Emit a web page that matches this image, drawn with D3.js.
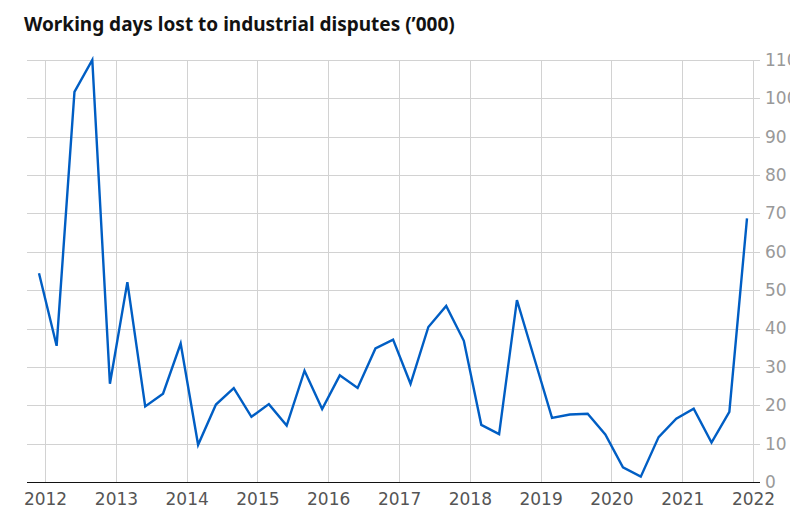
<!DOCTYPE html>
<html>
<head>
<meta charset="utf-8">
<script src="https://cdn.jsdelivr.net/npm/d3@7"></script>
<style>
  body { margin: 0; background: #fff; }
  svg text { font-family: "DejaVu Sans", sans-serif; }
</style>
</head>
<body>
<div id="chart"></div>
<script>
// quarterly periods (month the quarter ends)
const periods = [
  "2011-12",
  "2012-03", "2012-06", "2012-09", "2012-12",
  "2013-03", "2013-06", "2013-09", "2013-12",
  "2014-03", "2014-06", "2014-09", "2014-12",
  "2015-03", "2015-06", "2015-09", "2015-12",
  "2016-03", "2016-06", "2016-09", "2016-12",
  "2017-03", "2017-06", "2017-09", "2017-12",
  "2018-03", "2018-06", "2018-09", "2018-12",
  "2019-03", "2019-06", "2019-09", "2019-12",
  "2020-03", "2020-06", "2020-09", "2020-12",
  "2021-03", "2021-06", "2021-09", "2021-12"
];
// working days lost, thousands
const daysLost = [
  54.4,
  35.5, 101.7, 110, 25.6,
  52.1, 19.7, 23.0, 36.1,
  9.7, 20.2, 24.5, 17.0,
  20.3, 14.7, 29.0, 19.0,
  27.8, 24.5, 34.8, 37.1,
  25.6, 40.4, 45.9, 36.8,
  14.9, 12.5, 47.4, 32.0,
  16.7, 17.6, 17.8, 12.4,
  3.8, 1.4, 11.7, 16.5,
  19.1, 10.3, 18.3, 68.7
];
const yearTicks = [2012, 2013, 2014, 2015, 2016, 2017, 2018, 2019, 2020, 2021, 2022];
const valueTicks = [0, 10, 20, 30, 40, 50, 60, 70, 80, 90, 100, 110];
const title = "Working days lost to industrial disputes (\u2019000)";

const width = 790, height = 528;
const parse = d3.timeParse("%Y-%m");
const data = periods.map((p, i) => ({ date: parse(p), value: daysLost[i] }));

const svg = d3.select("#chart").append("svg")
  .attr("width", width)
  .attr("height", height);

const x = d3.scaleTime()
  .domain([new Date(2012, 0, 1), new Date(2022, 0, 1)])
  .range([45, 753]);
const y = d3.scaleLinear()
  .domain([0, 110])
  .range([482, 60]);

const gridLeft = 27, gridRight = 760;

// title
svg.append("text")
  .attr("x", 24)
  .attr("y", 31)
  .attr("font-size", 19)
  .attr("font-weight", "bold")
  .attr("fill", "#121212")
  .style("font-family", "'Noto Sans', sans-serif")
  .text(title);

// horizontal grid + right axis labels
const yAxis = d3.axisRight(y)
  .tickValues(valueTicks)
  .tickSize(0)
  .tickPadding(0)
  .tickFormat(d3.format("d"));
const gy = svg.append("g")
  .attr("transform", `translate(${gridRight + 5},0)`)
  .call(yAxis);
gy.select(".domain").remove();
gy.selectAll("text")
  .attr("font-size", 17)
  .attr("fill", "#999")
  .style("font-family", "'DejaVu Sans', sans-serif");

svg.append("g")
  .selectAll("line")
  .data(valueTicks.filter(d => d > 0))
  .join("line")
  .attr("x1", gridLeft)
  .attr("x2", gridRight)
  .attr("y1", d => Math.round(y(d)) + 0.5)
  .attr("y2", d => Math.round(y(d)) + 0.5)
  .attr("stroke", "#d2d2d2")
  .attr("stroke-width", 1);

// vertical grid at years
svg.append("g")
  .selectAll("line")
  .data(yearTicks)
  .join("line")
  .attr("x1", d => Math.round(x(new Date(d, 0, 1))) + 0.5)
  .attr("x2", d => Math.round(x(new Date(d, 0, 1))) + 0.5)
  .attr("y1", y(110))
  .attr("y2", y(0))
  .attr("stroke", "#d2d2d2")
  .attr("stroke-width", 1);

// x axis labels
const xAxis = d3.axisBottom(x)
  .tickValues(yearTicks.map(d => new Date(d, 0, 1)))
  .tickSize(0)
  .tickPadding(11)
  .tickFormat(d3.timeFormat("%Y"));
const gx = svg.append("g")
  .attr("transform", `translate(0,${y(0)})`)
  .call(xAxis);
gx.select(".domain").remove();
gx.selectAll("text")
  .attr("font-size", 17)
  .attr("fill", "#555")
  .style("font-family", "'DejaVu Sans', sans-serif");

// baseline
svg.append("line")
  .attr("x1", gridLeft)
  .attr("x2", gridRight)
  .attr("y1", y(0) + 0.5)
  .attr("y2", y(0) + 0.5)
  .attr("stroke", "#121212")
  .attr("stroke-width", 1.2);

// series line
const line = d3.line()
  .x(d => x(d.date))
  .y(d => y(d.value));

svg.append("path")
  .datum(data)
  .attr("fill", "none")
  .attr("stroke", "#005ec4")
  .attr("stroke-width", 2.4)
  .attr("stroke-linejoin", "miter")
  .attr("d", line);
</script>
</body>
</html>
